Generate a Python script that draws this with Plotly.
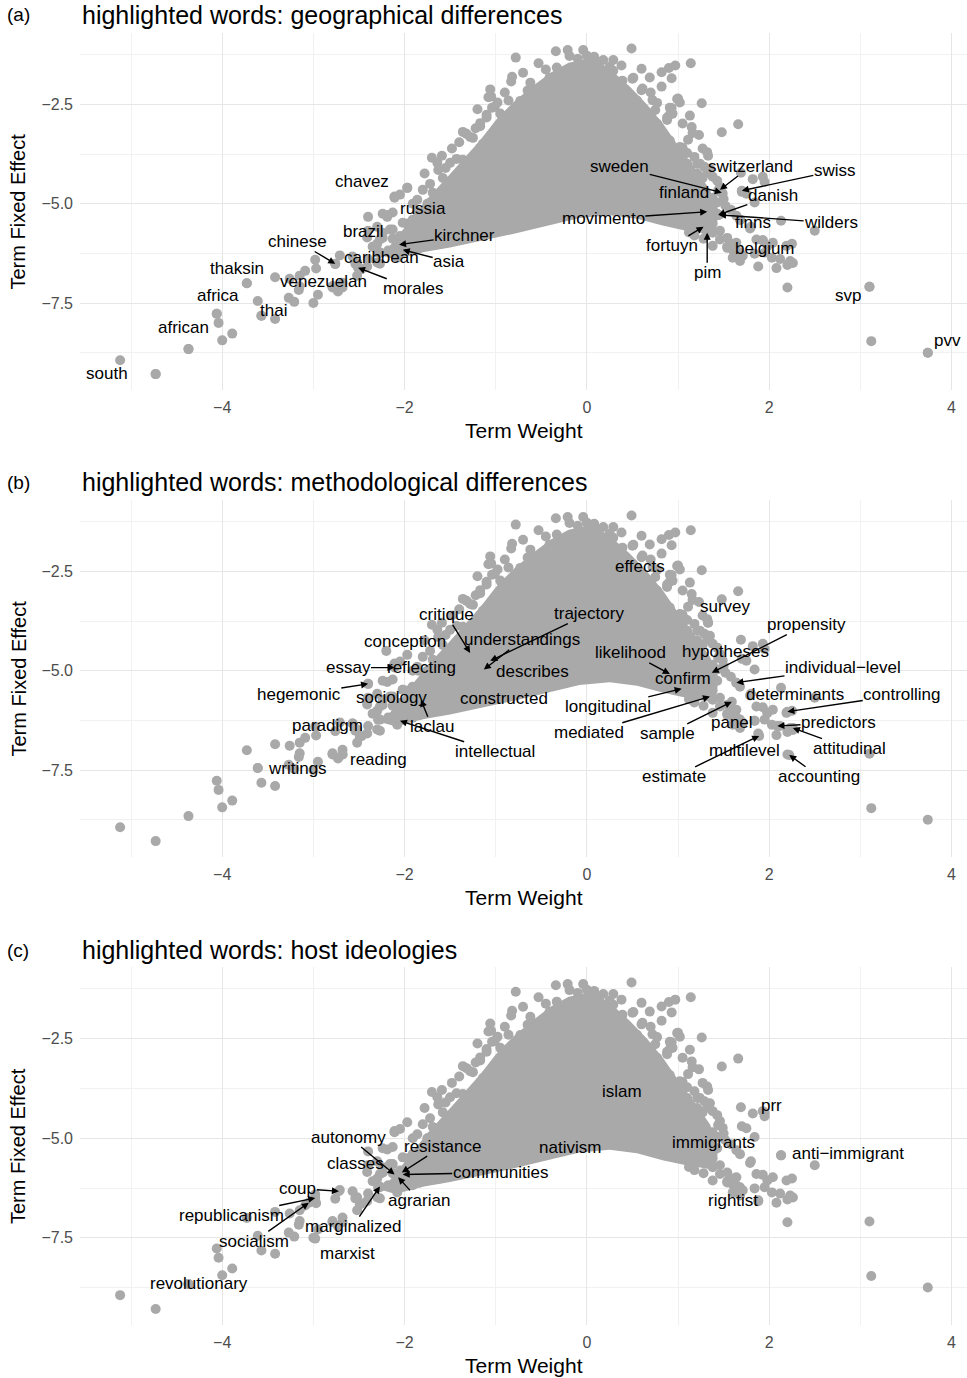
import plotly.graph_objects as go

GREY = "#a9a9a9"
FONT = "Liberation Sans, Arial, Helvetica, sans-serif"

# ---------------------------------------------------------------
# Data: term weight (x) and term fixed effect (y)
# ---------------------------------------------------------------
# outline of the solid, overplotted core of the cloud
core_weight = [-2.25, -2.05, -1.90, -1.72, -1.54, -1.36, -1.17, -1.00, -0.81, -0.60, -0.40, -0.20,
               0.00, 0.15, 0.30, 0.47, 0.66, 0.84, 1.02, 1.20, 1.35, 1.45, 1.40,
               1.05, 0.83, 0.55, 0.25, -0.08, -0.44, -0.81, -1.17, -1.50, -1.80, -2.10]
core_effect = [-6.30, -5.75, -5.30, -4.80, -4.35, -3.90, -3.40, -2.90, -2.45, -2.05, -1.70, -1.45,
               -1.35, -1.45, -1.70, -2.05, -2.50, -3.00, -3.60, -4.15, -4.65, -5.20, -5.80,
               -5.66, -5.55, -5.38, -5.29, -5.36, -5.56, -5.76, -5.94, -6.10, -6.22, -6.40]

# left tail
tail_left_w = [-5.12, -4.73, -4.37, -4.06, -4.04, -3.89, -4.00, -3.57, -3.42, -3.73, -3.61, -3.27,
               -3.21, -3.16, -3.00, -3.42, -3.09, -2.97, -2.95, -3.15, -2.79, -2.73, -2.68, -2.71,
               -2.76, -2.98, -3.15, -3.26]
tail_left_e = [-8.94, -9.29, -8.66, -7.77, -8.00, -8.27, -8.44, -7.82, -7.90, -7.00, -7.45, -7.37,
               -7.47, -7.17, -7.50, -6.85, -6.69, -6.63, -7.29, -7.08, -7.08, -7.21, -7.11, -6.30,
               -6.52, -6.41, -6.81, -6.89]

# lower-left fringe
low_left_w = [-2.52, -2.57, -2.49, -2.41, -2.30, -2.30, -2.24, -2.41, -2.35, -2.27, -2.13, -2.02,
              -2.40, -2.30, -2.24, -2.13, -2.05, -1.97, -1.91, -1.83, -2.18, -2.08, -2.29, -2.27,
              -2.40, -2.54, -2.47, -2.52, -2.68, -2.79, -2.40, -2.19, -2.11, -1.97]
low_left_e = [-6.48, -6.33, -6.66, -6.58, -6.48, -5.58, -5.73, -5.85, -6.08, -6.23, -5.65, -5.83,
              -5.33, -6.01, -5.86, -5.88, -5.81, -6.01, -6.18, -6.11, -6.18, -6.36, -6.23, -6.51,
              -6.39, -6.51, -6.64, -6.81, -6.99, -7.11, -5.68, -5.28, -4.82, -4.60]

# upper-left fringe
up_left_w = [-1.17, -1.32, -1.25, -1.10, -1.17, -1.48, -1.59, -1.64, -1.43, -1.32, -1.25, -1.78,
             -1.72, -1.58, -1.47, -1.54, -1.39, -1.28, -1.61, -1.48, -1.39, -2.11, -1.91, -1.75,
             -1.69, -1.80, -1.64, -1.54, -1.47, -2.24, -2.13, -1.97, -1.86, -1.75, -1.61, -1.47,
             -1.61, -1.75, -1.36, -1.28, -1.10, -1.01, -1.70, -1.50, -1.36, -1.14, -1.63, -2.05,
             -1.80, -1.69, -1.86, -1.72, -1.43, -2.02, -1.91, -1.83, -2.16, -1.43, -1.94, -2.27,
             -1.20, -1.05, -0.98, -1.22, -1.40, -1.55, -0.90, -0.86]
up_left_e = [-2.97, -3.24, -3.34, -3.41, -3.59, -3.61, -3.79, -3.97, -3.87, -3.99, -3.84, -4.24,
             -4.50, -4.35, -4.50, -4.67, -4.42, -4.35, -4.85, -4.87, -5.00, -4.85, -5.00, -5.00,
             -5.23, -5.35, -5.48, -5.35, -5.18, -5.25, -5.22, -5.50, -5.60, -5.76, -5.68, -5.86,
             -6.01, -6.01, -3.19, -3.32, -2.76, -2.56, -3.84, -3.97, -3.89, -3.64, -4.15, -4.77,
             -4.65, -4.72, -4.90, -4.97, -4.82, -5.48, -5.40, -5.58, -5.65, -5.40, -6.08, -5.90,
             -2.62, -2.30, -2.45, -3.10, -3.45, -4.10, -2.20, -2.40]

# top fringe
top_w = [-0.78, -0.53, -0.34, -0.21, -0.19, -0.04, 0.00, 0.09, 0.18, 0.29, 0.49, 1.14,
         0.82, 0.90, 0.97, 0.93, 0.69, 0.51, -0.82, -0.83, -1.06, -1.08, 0.60, 0.72,
         0.75, 1.00, 1.02, 0.93, 0.91, 0.88, -1.04, -0.95, -1.10, -0.65, -0.73, -0.77,
         -0.63, -0.52, -0.59, -0.49, -0.92, -1.01, -1.14, -1.17, -0.41, -0.33, -0.26, 0.18,
         0.29, 0.39, 0.50, 0.61, 0.77, 0.91, 0.99, 0.88, 0.94, 1.05, 0.77, 1.13,
         -0.45, -0.62, -0.70, 0.38, 0.60, 0.40, 0.25, -0.10, 0.08, 0.55, 0.70, 0.82]
top_e = [-1.32, -1.46, -1.16, -1.13, -1.28, -1.13, -1.27, -1.40, -1.38, -1.38, -1.09, -1.46,
         -1.69, -1.58, -1.52, -1.84, -1.82, -1.83, -1.80, -1.92, -2.12, -2.32, -2.14, -2.39,
         -2.64, -2.35, -2.45, -2.59, -2.76, -2.89, -2.58, -2.73, -2.83, -2.15, -2.41, -2.66,
         -2.58, -2.10, -2.33, -2.48, -2.98, -3.34, -3.49, -3.05, -1.83, -1.57, -1.73, -1.73,
         -1.65, -1.90, -1.85, -2.10, -2.46, -2.58, -2.36, -2.83, -2.73, -2.98, -2.98, -2.78,
         -1.62, -1.95, -1.70, -1.52, -1.60, -2.25, -1.55, -1.35, -1.30, -2.40, -2.20, -2.05]

# right shoulder
right_up_w = [1.66, 1.48, 1.26, 1.32, 1.24, 1.35, 1.32, 1.44, 1.49, 1.38, 1.69, 1.82,
              1.93, 1.95, 1.70, 1.75, 1.84, 1.43, 1.15, 1.16, 1.11, 1.23, 1.02, 1.10,
              1.18, 1.29, 1.38, 1.46, 1.27, 1.21, 1.43, 1.21, 1.10, 0.99, 1.05, 0.91,
              1.33, 1.27, 1.52, 1.50, 1.58]
right_up_e = [-3.00, -3.20, -2.47, -3.70, -3.99, -4.12, -4.22, -4.67, -4.74, -4.85, -4.22, -4.38,
              -4.32, -4.45, -4.70, -4.75, -4.97, -4.97, -3.07, -3.22, -3.39, -3.27, -3.57, -3.72,
              -3.82, -4.07, -4.32, -4.57, -4.35, -4.24, -4.42, -3.99, -3.99, -3.84, -3.59, -3.41,
              -3.79, -3.61, -5.05, -4.88, -5.15]

# right cluster below the core
right_low_w = [1.64, 1.80, 2.13, 1.93, 1.98, 1.95, 2.03, 2.12, 2.25, 2.19, 2.23, 2.26,
               2.08, 2.20, 1.88, 1.84, 1.71, 1.64, 1.68, 1.60, 1.38, 1.46, 1.54, 1.24,
               1.32, 1.38, 1.46, 1.54, 1.60, 1.64, 1.43, 1.35, 1.68, 1.79, 1.86, 2.04,
               1.38, 1.54, 1.60, 1.68, 1.12, 1.18, 1.28]
right_low_e = [-5.30, -5.58, -5.43, -5.92, -6.06, -6.23, -6.36, -6.39, -6.01, -6.06, -6.44, -6.49,
               -6.62, -6.54, -6.58, -6.26, -6.31, -5.98, -6.23, -6.16, -5.73, -5.90, -6.08, -5.48,
               -5.58, -5.50, -5.68, -5.86, -6.01, -6.18, -5.25, -5.23, -5.40, -5.62, -5.90, -5.98,
               -6.06, -6.11, -6.36, -6.44, -5.72, -5.80, -5.88]

# far right outliers
tail_right_w = [3.10, 3.12, 3.74, 2.20, 2.50]
tail_right_e = [-7.09, -8.46, -8.75, -7.11, -5.68]

# ---------------------------------------------------------------
# Highlighted words (word, term weight, fixed effect)
# ---------------------------------------------------------------
words_a = ["chavez", "russia", "brazil", "kirchner", "chinese", "caribbean", "asia", "thaksin",
           "venezuelan", "morales", "africa", "thai", "african", "south", "sweden", "switzerland",
           "swiss", "finland", "danish", "movimento", "finns", "wilders", "fortuyn", "pim",
           "belgium", "svp", "pvv"]
wx_a = [-1.97, -1.86, -2.19, -2.06, -2.76, -2.27, -2.02, -3.73, -2.79, -2.51, -4.06, -3.57,
        -4.37, -4.73, 1.48, 1.46, 1.70, 1.35, 1.44, 1.32, 1.68, 1.45, 1.28, 1.32, 1.93, 3.10, 3.74]
wy_a = [-4.60, -5.20, -5.33, -6.03, -6.51, -6.23, -6.16, -7.00, -7.08, -6.61, -7.77, -7.82,
        -8.66, -9.29, -4.72, -4.65, -4.67, -4.90, -5.28, -5.20, -5.40, -5.28, -5.58, -5.73,
        -5.92, -7.09, -8.75]

words_b = ["critique", "understandings", "trajectory", "conception", "essay", "reflecting",
           "hegemonic", "sociology", "constructed", "describes", "laclau", "intellectual",
           "paradigm", "reading", "writings", "effects", "survey", "propensity", "likelihood",
           "hypotheses", "confirm", "individual\u2212level", "longitudinal", "mediated", "sample",
           "determinants", "controlling", "panel", "predictors", "attitudinal", "multilevel",
           "estimate", "accounting"]
wx_b = [-1.28, -1.13, -1.06, -2.20, -2.11, -1.85, -2.40, -2.02, -0.90, -0.60, -1.82, -2.05,
        -2.57, -2.68, -3.61, 0.50, 1.33, 1.37, 0.91, 1.43, 1.05, 1.64, 1.04, 1.35, 1.59,
        1.98, 2.20, 1.64, 2.09, 2.26, 1.84, 1.89, 2.22]
wy_b = [-4.55, -4.97, -4.75, -4.50, -4.92, -5.00, -5.33, -5.48, -5.50, -5.00, -5.73, -6.26,
        -6.33, -7.11, -7.45, -2.30, -3.79, -5.05, -5.08, -4.42, -5.10, -5.30, -5.45, -5.65,
        -5.78, -6.06, -6.03, -6.18, -6.39, -6.44, -6.26, -6.64, -7.12]

words_c = ["autonomy", "resistance", "classes", "communities", "agrarian", "coup", "republicanism",
           "socialism", "marginalized", "marxist", "revolutionary", "islam", "nativism",
           "immigrants", "prr", "anti\u2212immigrant", "rightist"]
wx_c = [-2.11, -2.03, -2.24, -2.02, -2.07, -2.72, -2.98, -3.05, -2.27, -2.98, -4.37, 0.30,
        -0.20, 1.38, 1.95, 2.13, 1.88]
wy_c = [-5.91, -5.86, -5.86, -5.91, -5.98, -6.33, -6.50, -6.62, -6.21, -7.52, -8.66, -3.80,
        -5.20, -5.00, -4.37, -5.43, -6.56]

# ---------------------------------------------------------------
# Label placement (text centre, in axis units) and whether a leader arrow is drawn
# ---------------------------------------------------------------
place_a = {
    "chavez": (-2.47, -4.45, False), "russia": (-1.80, -5.13, False), "brazil": (-2.45, -5.70, False),
    "kirchner": (-1.34, -5.80, True), "chinese": (-3.17, -5.95, True), "caribbean": (-2.25, -6.36, False),
    "asia": (-1.51, -6.46, True), "thaksin": (-3.84, -6.63, False), "venezuelan": (-2.89, -6.96, False),
    "morales": (-1.91, -7.14, True), "africa": (-4.05, -7.31, False), "thai": (-3.44, -7.69, False),
    "african": (-4.43, -8.12, False), "south": (-5.26, -9.27, False), "sweden": (0.36, -4.07, True),
    "switzerland": (1.80, -4.05, True), "swiss": (2.72, -4.17, True), "finland": (1.07, -4.72, False),
    "danish": (2.04, -4.80, True), "movimento": (0.18, -5.38, True), "finns": (1.82, -5.48, False),
    "wilders": (2.68, -5.48, True), "fortuyn": (0.93, -6.06, True), "pim": (1.32, -6.74, True),
    "belgium": (1.95, -6.13, False), "svp": (2.86, -7.31, False), "pvv": (3.96, -8.44, False),
}
place_b = {
    "critique": (-1.54, -3.59, True), "understandings": (-0.71, -4.22, True),
    "trajectory": (0.02, -3.56, True), "conception": (-2.00, -4.27, False),
    "essay": (-2.62, -4.92, True), "reflecting": (-1.81, -4.92, False),
    "hegemonic": (-3.16, -5.60, True), "sociology": (-2.14, -5.68, False),
    "constructed": (-0.91, -5.71, False), "describes": (-0.60, -5.03, False),
    "laclau": (-1.70, -6.41, True), "intellectual": (-1.01, -7.04, True),
    "paradigm": (-2.84, -6.39, False), "reading": (-2.29, -7.24, False),
    "writings": (-3.17, -7.47, False), "effects": (0.58, -2.38, False),
    "survey": (1.52, -3.39, False), "propensity": (2.41, -3.84, True),
    "likelihood": (0.48, -4.55, True), "hypotheses": (1.52, -4.52, False),
    "confirm": (1.05, -5.20, False), "individual\u2212level": (2.81, -4.92, True),
    "longitudinal": (0.23, -5.91, True), "mediated": (0.02, -6.56, True),
    "sample": (0.88, -6.59, True), "determinants": (2.28, -5.60, False),
    "controlling": (3.46, -5.60, True), "panel": (1.59, -6.31, False),
    "predictors": (2.76, -6.31, True), "attitudinal": (2.88, -6.96, True),
    "multilevel": (1.73, -7.02, False), "estimate": (0.96, -7.67, True),
    "accounting": (2.55, -7.67, True),
}
place_c = {
    "autonomy": (-2.61, -4.97, True), "resistance": (-1.58, -5.20, True),
    "classes": (-2.54, -5.63, False), "communities": (-0.95, -5.86, True),
    "agrarian": (-1.84, -6.56, True), "coup": (-3.17, -6.26, True),
    "republicanism": (-3.90, -6.94, True), "socialism": (-3.65, -7.59, True),
    "marginalized": (-2.57, -7.22, True), "marxist": (-2.63, -7.90, False),
    "revolutionary": (-4.25, -8.65, False), "islam": (0.38, -3.82, False),
    "nativism": (-0.18, -5.23, False), "immigrants": (1.39, -5.10, False),
    "prr": (2.03, -4.17, False), "anti\u2212immigrant": (2.86, -5.38, False),
    "rightist": (1.60, -6.56, False),
}

titles = ["highlighted words: geographical differences",
          "highlighted words: methodological differences",
          "highlighted words: host ideologies"]
tags = ["(a)", "(b)", "(c)"]

x_ticks = [-4, -2, 0, 2, 4]
x_ticktext = ["\u22124", "\u22122", "0", "2", "4"]
x_minor = [-5, -3, -1, 1, 3]
y_ticks = [-2.5, -5.0, -7.5]
y_ticktext = ["\u22122.5", "\u22125.0", "\u22127.5"]
y_minor = [-1.25, -3.75, -6.25, -8.75]

# ---------------------------------------------------------------
# Figure geometry (pixels)
# ---------------------------------------------------------------
W, H = 967, 1378
PLOT_LEFT = 80
panel_top = [33, 500, 967]
panel_bot = [390, 857, 1325]
title_y = [15, 482, 950]
xtitle_y = [430, 897, 1365]

scatter_w = (tail_left_w + low_left_w + up_left_w + top_w + right_up_w + right_low_w
             + tail_right_w)
scatter_e = (tail_left_e + low_left_e + up_left_e + top_e + right_up_e + right_low_e
             + tail_right_e)

fig = go.Figure()
annotations = []
panels = [(words_a, wx_a, wy_a, place_a), (words_b, wx_b, wy_b, place_b),
          (words_c, wx_c, wy_c, place_c)]

for i, (words, wx, wy, place) in enumerate(panels):
    sfx = "" if i == 0 else str(i + 1)
    xa, ya = "x" + sfx, "y" + sfx
    fig.add_trace(go.Scatter(x=core_weight, y=core_effect, xaxis=xa, yaxis=ya, mode="lines",
                             fill="toself", fillcolor=GREY, line=dict(width=0, color=GREY),
                             hoverinfo="skip"))
    fig.add_trace(go.Scatter(x=scatter_w + wx, y=scatter_e + wy, xaxis=xa, yaxis=ya,
                             mode="markers", marker=dict(size=10, color=GREY, line=dict(width=0))))

    for w, px_, py_ in zip(words, wx, wy):
        lx, ly, arrow = place[w]
        if arrow:
            annotations.append(dict(
                x=px_, y=py_, xref=xa, yref=ya, ax=lx, ay=ly, axref=xa, ayref=ya,
                text=w, showarrow=True, arrowhead=2, arrowsize=1.0, arrowwidth=1.4,
                arrowcolor="black", standoff=0, borderpad=0,
                font=dict(size=17, color="black", family=FONT)))
        else:
            annotations.append(dict(
                x=lx, y=ly, xref=xa, yref=ya, text=w, showarrow=False,
                font=dict(size=17, color="black", family=FONT)))

    dom = [1 - panel_bot[i] / H, 1 - panel_top[i] / H]
    axis_common = dict(showgrid=True, gridcolor="#e6e6e6", gridwidth=1.1, zeroline=False,
                       showline=False, ticks="", tickfont=dict(size=16, color="#4d4d4d", family=FONT),
                       ticklabelstandoff=6)
    fig.update_layout(**{
        "xaxis" + sfx: dict(domain=[PLOT_LEFT / W, 1], range=[-5.56, 4.17], anchor=ya,
                            tickmode="array", tickvals=x_ticks, ticktext=x_ticktext,
                            minor=dict(tickvals=x_minor, showgrid=True, gridcolor="#f1f1f1",
                                       gridwidth=0.8),
                            **axis_common),
        "yaxis" + sfx: dict(domain=dom, range=[-9.69, -0.70], anchor=xa,
                            tickmode="array", tickvals=y_ticks, ticktext=y_ticktext,
                            minor=dict(tickvals=y_minor, showgrid=True, gridcolor="#f1f1f1",
                                       gridwidth=0.8),
                            **axis_common),
    })

    annotations.append(dict(x=5 / W, y=1 - title_y[i] / H, xref="paper", yref="paper",
                            xanchor="left", yanchor="middle", text=tags[i], showarrow=False,
                            font=dict(size=19, color="black", family=FONT)))
    annotations.append(dict(x=PLOT_LEFT / W, y=1 - title_y[i] / H, xref="paper", yref="paper",
                            xanchor="left", yanchor="middle", text=titles[i], showarrow=False,
                            font=dict(size=25, color="black", family=FONT)))
    annotations.append(dict(x=(PLOT_LEFT + W) / 2 / W, y=1 - xtitle_y[i] / H, xref="paper",
                            yref="paper", xanchor="center", yanchor="middle", text="Term Weight",
                            showarrow=False, font=dict(size=21, color="black", family=FONT)))
    annotations.append(dict(x=18 / W, y=1 - (panel_top[i] + panel_bot[i]) / 2 / H, xref="paper",
                            yref="paper", xanchor="center", yanchor="middle",
                            text="Term Fixed Effect", textangle=-90, showarrow=False,
                            font=dict(size=20, color="black", family=FONT)))

fig.update_layout(width=W, height=H, margin=dict(l=0, r=0, t=0, b=0),
                  plot_bgcolor="white", paper_bgcolor="white", showlegend=False,
                  hovermode=False, font=dict(family=FONT), annotations=annotations)

fig.write_html("out.html", config={"displayModeBar": False},
               post_script="document.body.style.margin='0px';"
                           "document.body.style.overflow='hidden';")
